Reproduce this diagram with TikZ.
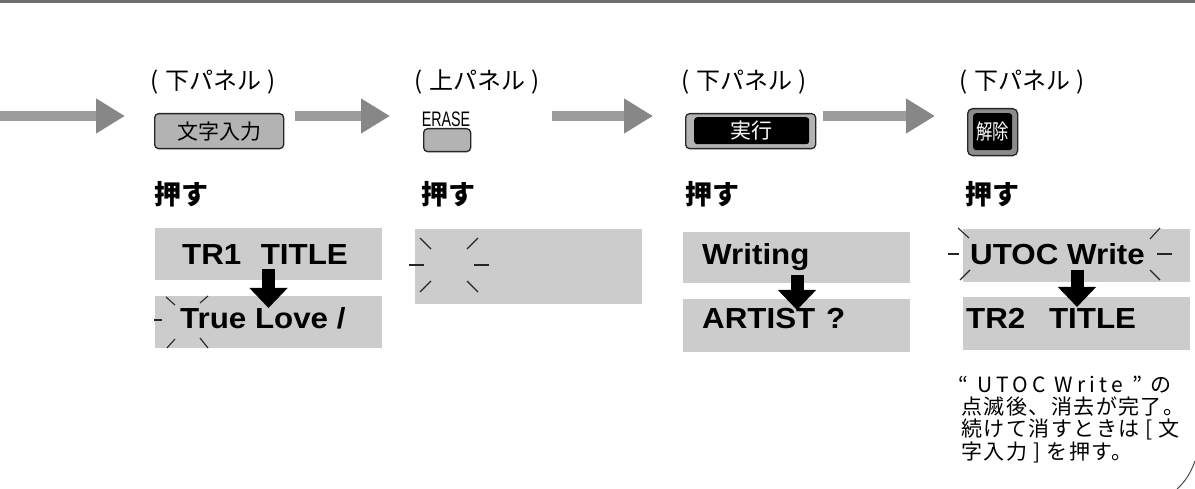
\documentclass[tikz,border=0pt]{standalone}
\usepackage{fontspec}
\usepackage{graphicx}
\usetikzlibrary{arrows.meta}
\newfontfamily\jp{Noto Sans CJK JP}
\newfontfamily\ar{Liberation Sans}
\definecolor{panelgray}{HTML}{CCCCCC}
\definecolor{shaftgray}{HTML}{9C9C9C}
\definecolor{headgray}{HTML}{878787}
\definecolor{btngray}{HTML}{B3B3B3}
\definecolor{rulegray}{HTML}{6E6E6E}
\tikzset{
  panel/.style={fill=panelgray, inner sep=0pt, anchor=north west},
  bigarrow/.style={line width=10pt, draw=shaftgray, -{Triangle[length=29pt,width=33pt,color=headgray]}},
  downarrow/.style={line width=13pt, draw=black, -{Triangle[length=20pt,width=37pt]}},
  spark/.style={line width=1.1pt, draw=black!85},
  disp/.style={font=\ar\bfseries\fontsize{29}{32}\selectfont, anchor=base west, inner sep=0pt},
  lab/.style={font=\jp\fontsize{24}{28}\selectfont, anchor=base, inner sep=0pt},
  push/.style={font=\jp\bfseries\fontsize{27}{30}\selectfont, anchor=base west, inner sep=0pt},
  note/.style={font=\jp\fontsize{21}{24}\selectfont\addfontfeature{LetterSpace=7}, anchor=base west, inner sep=0pt},
  btn/.style={fill=btngray, draw=black!85, line width=1.3pt, rounded corners=4pt, inner sep=0pt, anchor=north west},
  btnin/.style={fill=black, rounded corners=3pt, inner sep=0pt, anchor=north west},
}
\begin{document}
\begin{tikzpicture}[x=1pt, y=-1pt]
\useasboundingbox (0,0) rectangle (1195,489);
% top rule
\coordinate (r0) at (0,1.5);
\coordinate (r1) at (1195,1.5);
\draw[line width=3pt, rulegray] (r0) -- (r1);

% gray flow arrows
\coordinate (g1s) at (0,116);   \coordinate (g1e) at (125,116);
\coordinate (g2s) at (295,116); \coordinate (g2e) at (390,116);
\coordinate (g3s) at (552,116); \coordinate (g3e) at (653,116);
\coordinate (g4s) at (823,116); \coordinate (g4e) at (935,116);
\draw[bigarrow] (g1s) -- (g1e);
\draw[bigarrow] (g2s) -- (g2e);
\draw[bigarrow] (g3s) -- (g3e);
\draw[bigarrow] (g4s) -- (g4e);

% panel labels
\node[lab] (l1) at (213,90) {(\hspace{6pt}下パネル\hspace{6pt})};
\node[lab] (l2) at (477,90) {(\hspace{6pt}上パネル\hspace{6pt})};
\node[lab] (l3) at (744,90) {(\hspace{6pt}下パネル\hspace{6pt})};
\node[lab] (l4) at (1022,90) {(\hspace{6pt}下パネル\hspace{6pt})};

% buttons
\node[btn, minimum width=129pt, minimum height=35pt] (b1) at (154,113) {};
\node[font=\jp\fontsize{21}{24}\selectfont, inner sep=0pt] (b1t) at (b1.center) {文字入力};

\node[font=\ar\fontsize{21}{24}\selectfont, anchor=base, inner sep=0pt] (b2l) at (446,127) {\scalebox{0.68}[1]{ERASE}};
\node[btn, minimum width=47pt, minimum height=23pt] (b2) at (423,128) {};

\node[btn, minimum width=130pt, minimum height=35pt] (b3) at (685,113) {};
\node[btnin, minimum width=115pt, minimum height=27pt] (b3i) at (694,117) {};
\node[font=\jp\fontsize{21}{24}\selectfont, text=white, inner sep=0pt] (b3t) at (b3i.center) {実行};

\node[btn, fill=black!45, minimum width=50pt, minimum height=47pt, rounded corners=5pt] (b4) at (967,108) {};
\node[btnin, minimum width=39pt, minimum height=37pt] (b4i) at (973,113) {};
\node[font=\jp\fontsize{21}{24}\selectfont, text=white, inner sep=0pt] (b4t) at (b4i.center) {\scalebox{0.78}[1]{解除}};

% push labels
\node[push] (p1) at (154,205) {押す};
\node[push] (p2) at (421,205) {押す};
\node[push] (p3) at (685,205) {押す};
\node[push] (p4) at (965,205) {押す};

% display panels
\node[panel, minimum width=227pt, minimum height=52pt] (d1a) at (155,228) {};
\node[panel, minimum width=227pt, minimum height=52pt] (d1b) at (155,296) {};
\node[panel, minimum width=227pt, minimum height=75pt] (d2) at (415,229) {};
\node[panel, minimum width=227pt, minimum height=51pt] (d3a) at (683,232) {};
\node[panel, minimum width=227pt, minimum height=53pt] (d3b) at (683,299) {};
\node[panel, minimum width=227pt, minimum height=53pt] (d4a) at (963,229) {};
\node[panel, minimum width=227pt, minimum height=53pt] (d4b) at (963,297) {};

% display texts
\node[disp] (t1a) at (182,265) {\scalebox{1.08}[1]{TR1\hspace{18pt}TITLE}};
\node[disp] (t1b) at (180,328) {\scalebox{1.08}[1]{True Love\hspace{8pt}/}};
\node[disp] (t3a) at (702,265) {\scalebox{1.08}[1]{Writing}};
\node[disp] (t3b) at (702,328) {\scalebox{1.08}[1]{ARTIST\hspace{10pt}?}};
\node[disp] (t4a) at (970,265) {\scalebox{1.08}[1]{UTOC Write}};
\node[disp] (t4b) at (966,328) {\scalebox{1.08}[1]{TR2\hspace{22pt}TITLE}};

% down arrows
\coordinate (a1s) at (268.5,269); \coordinate (a1e) at (268.5,308);
\coordinate (a3s) at (797,275);   \coordinate (a3e) at (797,310);
\coordinate (a4s) at (1077,270);  \coordinate (a4e) at (1077,307);
\draw[downarrow] (a1s) -- (a1e);
\draw[downarrow] (a3s) -- (a3e);
\draw[downarrow] (a4s) -- (a4e);

% sparkles panel 1
\draw[spark] (166,297) -- (175,305);
\draw[spark] (208,296) -- (200,303);
\draw[spark] (154,320) -- (162,320);
\draw[spark] (167,348) -- (175,339);
\draw[spark] (208,348) -- (200,338);
% sparkles panel 2
\draw[spark] (420,238) -- (431,249);
\draw[spark] (478,238) -- (467,249);
\draw[spark] (409,265) -- (424,265);
\draw[spark] (474,265) -- (489,265);
\draw[spark] (420,292) -- (431,281);
\draw[spark] (478,292) -- (467,281);
% sparkles panel 4
\draw[spark] (958,228) -- (969,238);
\draw[spark] (1160,228) -- (1150,239);
\draw[spark] (948,254) -- (959,254);
\draw[spark] (1157,254) -- (1172,254);
\draw[spark] (960,280) -- (970,270);
\draw[spark] (1150,270) -- (1160,280);

% note
\node[note, font=\jp\fontsize{21}{24}\selectfont\addfontfeature{LetterSpace=20}] (n1) at (958,392) {“ UTOC Write ” の};
\node[note] (n2) at (961,414) {点滅後、消去が完了。};
\node[note] (n3) at (961,436) {続けて消すときは [ 文};
\node[note] (n4) at (961,459) {字入力 ] を押す。};

% corner curve
\coordinate (c0) at (1177,489);
\coordinate (c1) at (1195,461);
\draw[line width=1pt, black!70] (c0) .. controls (1186,481) and (1191,472) .. (c1);
\end{tikzpicture}
\end{document}
